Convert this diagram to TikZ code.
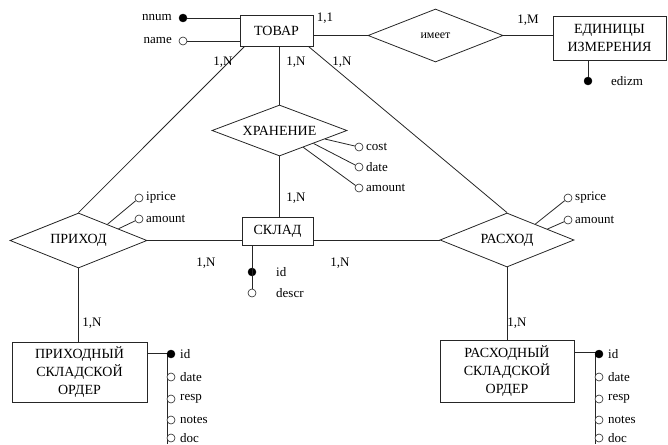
\documentclass[tikz,border=0pt]{standalone}
\usepackage{fontspec}
\setmainfont{Liberation Serif}
\usetikzlibrary{shapes.geometric,calc}
\begin{document}
\begin{tikzpicture}[x=1pt,y=-1pt,
 line/.style={line width=0.8pt, draw=black!85},
 entity/.style={draw=black!85, line width=0.8pt, rectangle, inner sep=0pt, font=\fontsize{14}{18}\selectfont, align=center},
 rel/.style={draw=black!85, line width=0.8pt, diamond, inner sep=0pt, font=\fontsize{14}{16}\selectfont},
 keyattr/.style={circle, fill=black, draw=black, inner sep=0pt, minimum size=8pt},
 attr/.style={circle, draw=black!85, fill=white, inner sep=0pt, minimum size=8pt, line width=0.6pt},
 lbl/.style={font=\fontsize{13}{15}\selectfont, inner sep=0pt},
 card/.style={font=\fontsize{13}{15}\selectfont, inner sep=0pt}
]
\useasboundingbox (0,0) rectangle (668,444);

% entities
\node[entity, minimum width=73pt, minimum height=31pt] (tovar) at (276.5,30.5) {ТОВАР};
\node[entity, minimum width=113pt, minimum height=44pt] (edin) at (609.5,38) {ЕДИНИЦЫ\\ИЗМЕРЕНИЯ};
\node[entity, minimum width=71pt, minimum height=28pt] (sklad) at (277.5,231) {СКЛАД};
\node[entity, minimum width=135pt, minimum height=60pt] (prord) at (79.5,372) {ПРИХОДНЫЙ\\СКЛАДСКОЙ\\ОРДЕР};
\node[entity, minimum width=134pt, minimum height=62pt] (rasord) at (507,371) {РАСХОДНЫЙ\\СКЛАДСКОЙ\\ОРДЕР};

% relationships
\node[rel, aspect=2.55, minimum width=135pt, minimum height=53pt, font=\fontsize{12}{14}\selectfont] (imeet) at (435.5,35.5) {имеет};
\node[rel, aspect=2.65, minimum width=135pt, minimum height=51pt] (hran) at (279.5,130.5) {ХРАНЕНИЕ};
\node[rel, aspect=2.5, minimum width=137pt, minimum height=55pt] (prihod) at (78.5,240.5) {ПРИХОД};
\node[rel, aspect=2.5, minimum width=134pt, minimum height=54pt] (rashod) at (507,240) {РАСХОД};

% connectors
\draw[line] (imeet.west -| tovar.east) -- (imeet.west);
\draw[line] (imeet.east) -- (imeet.east -| edin.west);
\draw[line] (hran.north |- tovar.south) -- (hran.north);
\draw[line] (hran.south) -- (hran.south |- sklad.north);
\draw[line] (prihod.east) -- (prihod.east -| sklad.west);
\draw[line] (sklad.east |- rashod.west) -- (rashod.west);
\draw[line] (prihod.south) -- (prihod.south |- prord.north);
\draw[line] (rashod.south) -- (rashod.south |- rasord.north);
\draw[line] ($(tovar.south west)+(5,0)$) -- (prihod.north);
\draw[line] ($(tovar.south east)+(-5,0)$) -- (rashod.north);

% cardinalities
\node[card] (c11) at (325,18) {1,1};
\node[card] (c1m) at (528,20) {1,M};
\node[card] (cn1) at (223,62) {1,N};
\node[card] (cn2) at (296,62) {1,N};
\node[card] (cn3) at (342,62) {1,N};
\node[card] (cn4) at (296,198) {1,N};
\node[card] (cn5) at (206,263) {1,N};
\node[card] (cn6) at (340,263) {1,N};
\node[card] (cn7) at (92,323) {1,N};
\node[card] (cn8) at (517,323) {1,N};

% ТОВАР attributes
\node[keyattr] (nnum) at (183,18) {};
\node[attr] (name) at (183,41) {};
\draw[line] (nnum) -- (nnum -| tovar.west);
\draw[line] (name.east) -- (name -| tovar.west);
\node[lbl, anchor=east] (nnuml) at (172,18) {nnum};
\node[lbl, anchor=east] (namel) at (172,41) {name};

% ЕДИНИЦЫ attribute
\node[keyattr] (edizm) at (588,81) {};
\draw[line] (edin.south -| edizm) -- (edizm);
\node[lbl, anchor=west] (edizml) at (611,81) {edizm};

% ХРАНЕНИЕ attributes
\node[attr] (hcost) at (359,147) {};
\node[attr] (hdate) at (359,167) {};
\node[attr] (hamount) at (359,188) {};
\draw[line] ($(hran.east)!0.33!(hran.south)$) -- (hcost);
\draw[line] ($(hran.east)!0.5!(hran.south)$) -- (hdate);
\draw[line] ($(hran.east)!0.65!(hran.south)$) -- (hamount);
\node[lbl, anchor=west] (hcostl) at (366,147) {cost};
\node[lbl, anchor=west] (hdatel) at (366,167) {date};
\node[lbl, anchor=west] (hamountl) at (366,188) {amount};

% ПРИХОД attributes
\node[attr] (piprice) at (139,198) {};
\node[attr] (pamount) at (139,219) {};
\draw[line] ($(prihod.north)!0.42!(prihod.east)$) -- (piprice);
\draw[line] ($(prihod.north)!0.58!(prihod.east)$) -- (pamount);
\node[lbl, anchor=west] (pipricel) at (146,198) {iprice};
\node[lbl, anchor=west] (pamountl) at (146,219) {amount};

% РАСХОД attributes
\node[attr] (rsprice) at (568,198) {};
\node[attr] (ramount) at (568,220) {};
\draw[line] ($(rashod.north)!0.42!(rashod.east)$) -- (rsprice);
\draw[line] ($(rashod.north)!0.6!(rashod.east)$) -- (ramount);
\node[lbl, anchor=west] (rspricel) at (575,198) {sprice};
\node[lbl, anchor=west] (ramountl) at (575,220) {amount};

% СКЛАД attributes
\node[keyattr] (sid) at (252,272) {};
\node[attr] (sdescr) at (252,293) {};
\draw[line] (sklad.south -| sid) -- (sdescr.north);
\node[lbl, anchor=west] (sidl) at (276,272) {id};
\node[lbl, anchor=west] (sdescrl) at (276,293) {descr};

% ПРИХОДНЫЙ СКЛАДСКОЙ ОРДЕР attributes
\coordinate (pk) at (167,353);
\coordinate (pend) at (167,444);
\draw[line] (prord.east |- pk) -- (pk) -- (pend);
\node[keyattr] (pid) at (171,354) {};
\node[attr] (pdate) at (171,377) {};
\node[attr] (presp) at (171,399) {};
\node[attr] (pnotes) at (171,420) {};
\node[attr] (pdoc) at (171,438) {};
\node[lbl, anchor=west] (pidl) at (180,354) {id};
\node[lbl, anchor=west] (pdatel) at (180,377) {date};
\node[lbl, anchor=west] (prespl) at (180,399) {resp};
\node[lbl, anchor=west] (pnotesl) at (180,420) {notes};
\node[lbl, anchor=west] (pdocl) at (180,438) {doc};

% РАСХОДНЫЙ СКЛАДСКОЙ ОРДЕР attributes
\coordinate (rk) at (595,352);
\coordinate (rend) at (595,444);
\draw[line] (rasord.east |- rk) -- (rk) -- (rend);
\node[keyattr] (rid) at (599,354) {};
\node[attr] (rdate) at (599,377) {};
\node[attr] (rresp) at (599,399) {};
\node[attr] (rnotes) at (599,420) {};
\node[attr] (rdoc) at (599,438) {};
\node[lbl, anchor=west] (ridl) at (608,354) {id};
\node[lbl, anchor=west] (rdatel) at (608,377) {date};
\node[lbl, anchor=west] (rrespl) at (608,399) {resp};
\node[lbl, anchor=west] (rnotesl) at (608,420) {notes};
\node[lbl, anchor=west] (rdocl) at (608,438) {doc};
\end{tikzpicture}
\end{document}
